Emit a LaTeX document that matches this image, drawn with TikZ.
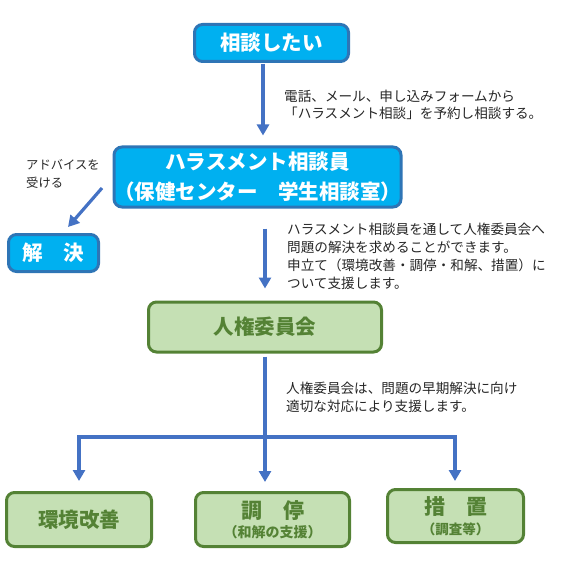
\documentclass[tikz,border=0pt]{standalone}
\usepackage{fontspec}
\setmainfont{Noto Sans CJK JP}
\usetikzlibrary{arrows.meta}
\definecolor{cyanfill}{HTML}{00B0F0}
\definecolor{cyanedge}{HTML}{2E75B6}
\definecolor{arrowblue}{HTML}{4472C4}
\definecolor{greenfill}{HTML}{C5E0B4}
\definecolor{greenedge}{HTML}{548235}
\definecolor{greentext}{HTML}{548235}
\definecolor{notetext}{HTML}{262626}
\begin{document}
\begin{tikzpicture}[x=1pt,y=-1pt,
  bluebox/.style={draw=cyanedge, fill=cyanfill, line width=3pt, rounded corners=8pt, text=white, font=\fontsize{20.5}{30}\selectfont\bfseries, align=center, inner sep=0pt},
  greenbox/.style={draw=greenedge, fill=greenfill, line width=3pt, rounded corners=8pt, text=greentext, font=\fontsize{20.5}{30}\selectfont\bfseries, align=center, inner sep=0pt},
  note/.style={anchor=north west, inner sep=0pt, align=left, text=notetext},
  arr/.style={draw=arrowblue, line width=3.2pt, -{Triangle[width=12pt,length=11pt]}}
]
\useasboundingbox (0,0) rectangle (561,572);

% boxes
\node[bluebox, minimum width=154pt, minimum height=37pt] (start) at (271.5,43) {相談したい};
\node[bluebox, minimum width=278pt, minimum height=60pt] (harass) at (257.5,177) {ハラスメント相談員\\（保健センター　学生相談室）};
\node[bluebox, minimum width=90pt, minimum height=37pt] (kaiketsu) at (53.5,253) {解　決};
\node[greenbox, minimum width=233pt, minimum height=50pt] (jinken) at (265,327) {人権委員会};
\node[greenbox, minimum width=145pt, minimum height=54pt] (kankyo) at (79,519.5) {環境改善};
\node[greenbox, minimum width=154pt, minimum height=54pt, font=\fontsize{14}{19.5}\selectfont\bfseries] (chotei) at (272.5,519.5) {{\fontsize{21}{21}\selectfont 調　停}\\（和解の支援）};
\node[greenbox, minimum width=136pt, minimum height=53pt, font=\fontsize{13.5}{19.5}\selectfont\bfseries] (sochi) at (455.5,516) {{\fontsize{21}{21}\selectfont 措　置}\\（調査等）};

% notes
\node[note, font=\fontsize{13.6}{16.8}\selectfont] (n1) at (284,90) {電話、メール、申し込みフォームから\\「ハラスメント相談」を予約し相談する。};
\node[note, font=\fontsize{12.3}{18}\selectfont] (n0) at (26,159) {アドバイスを\\受ける};
\node[note, font=\fontsize{13.6}{18}\selectfont] (n2) at (287,223) {ハラスメント相談員を通して人権委員会へ\\問題の解決を求めることができます。\\申立て（環境改善・調停・和解、措置）に\\ついて支援します。};
\node[note, font=\fontsize{13.6}{17.5}\selectfont] (n3) at (286,382) {人権委員会は、問題の早期解決に向け\\適切な対応により支援します。};

% coordinates
\coordinate (c263) at (263,0);
\coordinate (c265) at (265,0);
\coordinate (jt) at (265,437);
\coordinate (jl) at (79,437);
\coordinate (jr) at (455,437);
\coordinate (d0) at (102,188);
\coordinate (d1) at (68,227);

% connectors
\draw[arr, shorten <=1pt, shorten >=10pt] (start.south -| c263) -- (harass.north -| c263);
\draw[arr, shorten <=20pt, shorten >=12pt] (harass.south -| c265) -- (jinken.north -| c265);
\draw[arr] (d0) -- (d1);
\draw[arr, shorten <=3pt, shorten >=9pt] (jinken.south -| c265) -- (chotei.north -| c265);
\draw[arr, shorten >=10pt] (jt) -- (jl) -- (kankyo.north -| jl);
\draw[arr, shorten >=7pt] (jt) -- (jr) -- (sochi.north -| jr);
\end{tikzpicture}
\end{document}
